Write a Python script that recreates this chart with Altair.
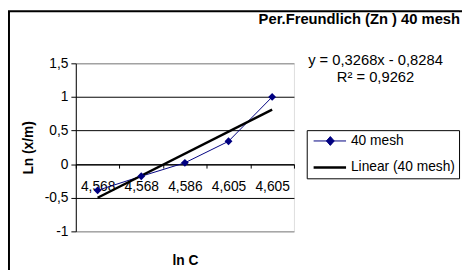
import json
import altair as alt
import pandas as pd

# ---- data ----
x_idx = [1, 2, 3, 4, 5]
x_labels = ["4,568", "4,568", "4,586", "4,605", "4,605"]
ln_xm = [-0.39, -0.18, 0.02, 0.34, 1.0]
trend_idx = [1, 5]
trend_vals = [-0.50, 0.81]
series_names = ["40 mesh", "Linear (40 mesh)"]
series_colors = ["#000080", "#000000"]
series_widths = [1, 2.5]
equation_lines = ["y = 0,3268x - 0,8284", "R² = 0,9262"]
title_text = "Per.Freundlich (Zn ) 40 mesh"
x_title = "ln C"
y_title = "Ln (x/m)"
y_ticks = [-1, -0.5, 0, 0.5, 1, 1.5]

FONT = "Liberation Sans"
W, H = 222, 171

data_df = pd.DataFrame({"idx": x_idx, "val": ln_xm, "series": series_names[0]})
trend_df = pd.DataFrame({"idx": trend_idx, "val": trend_vals, "series": series_names[1]})

label_expr = json.dumps(x_labels) + "[datum.value - 1]"

xenc = alt.X(
    "idx:O",
    scale=alt.Scale(type="band", domain=x_idx, paddingInner=0, paddingOuter=0),
    axis=alt.Axis(
        title=x_title, labelExpr=label_expr, tickBand="extent", offset=-H * 0.4,
        labelAngle=0, labelBaseline="top", labelPadding=12, tickSize=4,
        tickColor="black", domainColor="black", labelColor="black",
        labelFont=FONT, labelFontSize=14, titleFont=FONT, titleFontSize=14,
        titleFontWeight="bold", titleColor="black", titleY=98,
        titleBaseline="middle", grid=False,
    ),
)
yenc = alt.Y(
    "val:Q",
    scale=alt.Scale(domain=[-1, 1.5], nice=False, zero=False),
    axis=alt.Axis(
        values=y_ticks, labelExpr="replace(toString(datum.value), '.', ',')",
        tickSize=5, labelPadding=3, tickColor="black", domainColor="black",
        labelColor="black", labelFont=FONT, labelFontSize=14,
        grid=True,
        gridColor={"condition": {"test": "datum.value === 1.5 || datum.value === -1",
                                  "value": "#808080"}, "value": "black"},
        title=y_title, titleFont=FONT, titleFontSize=14, titleFontWeight="bold",
        titleColor="black", titleX=-48, titleY=H / 2, titleAlign="center",
        titleBaseline="middle", titleAngle=270,
    ),
)

legend = alt.Legend(
    title=None, orient="none", legendX=235, legendY=68, strokeColor="black",
    fillColor="white", padding=4, labelFont=FONT, labelFontSize=14,
    labelColor="black", symbolSize=100, labelOffset=27, rowPadding=13,
    cornerRadius=0,
)
path_mesh = "M-0.8,0H5.8M2.6,-0.9L3.4,0L2.6,0.9L1.8,0Z"
path_lin = "M-0.8,0H5.8"

stroke_enc = alt.Stroke("series:N", scale=alt.Scale(domain=series_names, range=series_colors), legend=legend)
fill_enc = alt.Fill("series:N", scale=alt.Scale(domain=series_names, range=series_colors), legend=legend)
sw_enc = alt.StrokeWidth("series:N", scale=alt.Scale(domain=series_names, range=series_widths), legend=legend)
shape_enc = alt.Shape("series:N", scale=alt.Scale(domain=series_names, range=[path_mesh, path_lin]), legend=legend)

frame = alt.Chart(alt.Data(values=[{}])).mark_rect(
    fill="transparent", stroke="black", strokeWidth=2, clip=False
).encode(x=alt.value(-68), x2=alt.value(600), y=alt.value(-53), y2=alt.value(400))

data_line = alt.Chart(data_df).mark_line().encode(x=xenc, y=yenc, stroke=stroke_enc, strokeWidth=sw_enc)
trend_line = alt.Chart(trend_df).mark_line().encode(x=xenc, y=yenc, stroke=stroke_enc, strokeWidth=sw_enc)
points = alt.Chart(data_df).mark_point(
    shape="diamond", filled=True, size=64, color="#000080", opacity=1
).encode(x=xenc, y=yenc)
legend_layer = alt.Chart(data_df).mark_point(filled=True, opacity=1).encode(
    x=xenc, y=yenc, shape=shape_enc, fill=fill_enc, stroke=stroke_enc, strokeWidth=sw_enc
).transform_filter("false")

eq = alt.Chart(alt.Data(values=[{"t": "\n".join(equation_lines)}])).mark_text(
    align="center", baseline="top", lineBreak="\n", lineHeight=17, fontSize=15,
    font=FONT, color="black"
).encode(x=alt.value(305), y=alt.value(-10), text="t:N")

chart = alt.layer(frame, data_line, trend_line, points, legend_layer, eq).properties(
    width=W, height=H,
    title=alt.Title(title_text, anchor="end", frame="group", dx=169, dy=45, offset=28,
                    font=FONT, fontSize=15, fontWeight="bold", color="black"),
    autosize=alt.AutoSizeParams(type="none"),
    padding={"left": 69, "top": 54, "right": 171, "bottom": 37},
).configure_view(fill="#C0C0C0", stroke="#808080", strokeWidth=1).configure(background="white")

chart.save("out.html", embed_options={"renderer": "svg", "actions": False})
